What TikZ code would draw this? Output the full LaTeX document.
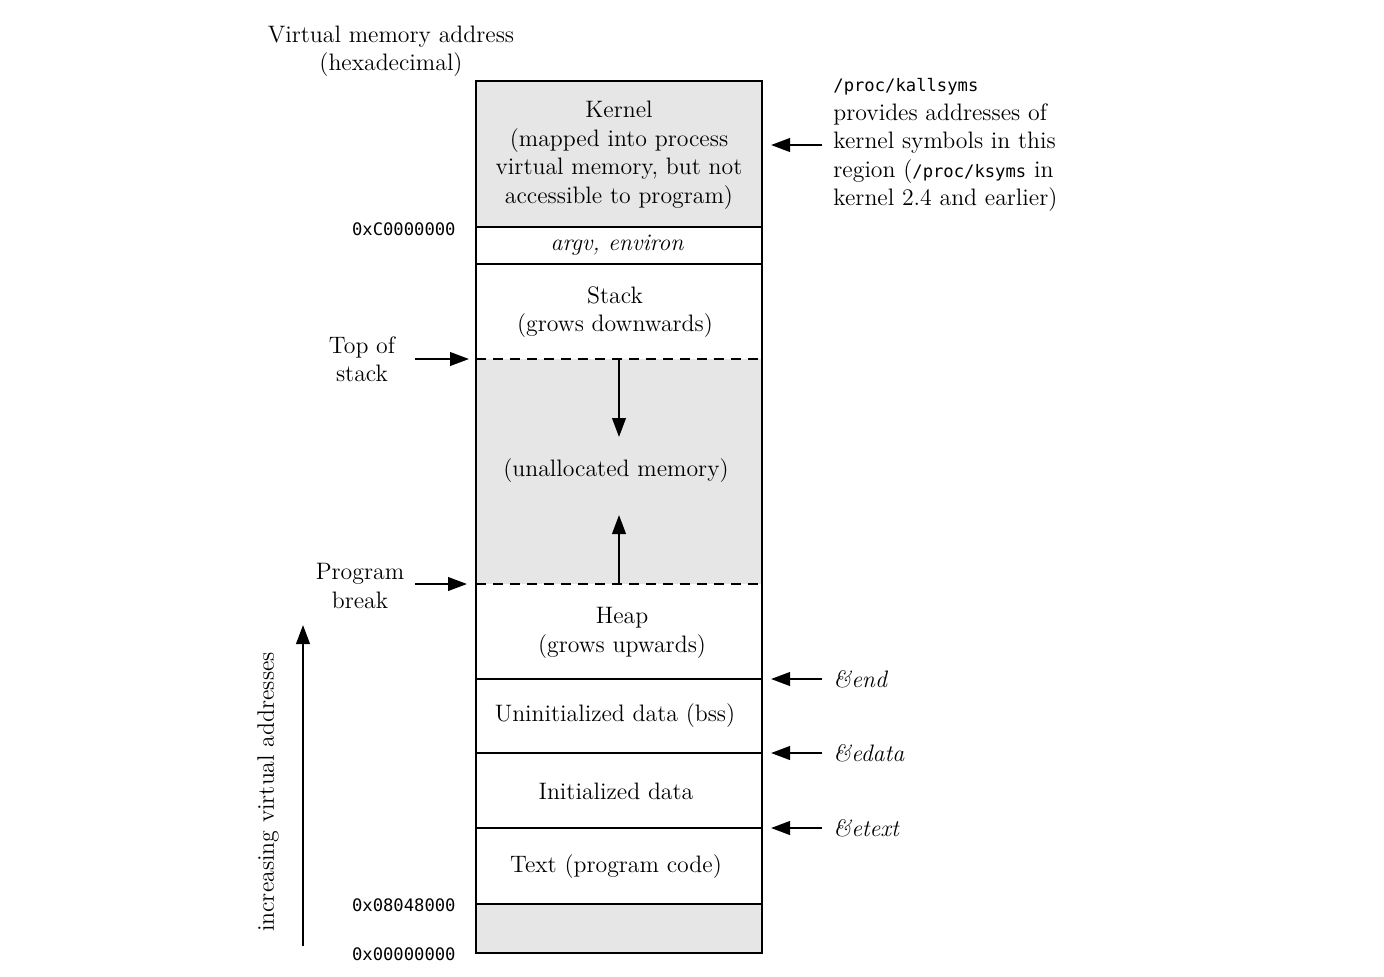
\documentclass[tikz,border=0pt]{standalone}
\usepackage{fontspec}
\newfontfamily\monof{DejaVu Sans Mono}
\usetikzlibrary{arrows.meta}
\definecolor{memgray}{RGB}{230,230,230}
\begin{document}
\begin{tikzpicture}[x=0.5pt,y=-0.5pt,
  txt/.style={font=\fontsize{11.9}{14.25}\selectfont, align=center, inner sep=0pt},
  rtxt/.style={font=\fontsize{11.9}{14.25}\selectfont, align=left, inner sep=0pt},
  hex/.style={font=\monof\fontsize{8.6}{10}\selectfont, inner sep=0pt, anchor=east},
  arr/.style={-{Triangle[length=9.5pt,width=6.8pt]}, line width=1.1pt},
  border/.style={line width=1.4pt},
  dashsep/.style={line width=1.2pt, dash pattern=on 5pt off 3.5pt}]
\useasboundingbox (0,0) rectangle (1384,976);
% gray regions
\fill[memgray] (476,81) rectangle (762,227);
\fill[memgray] (476,359) rectangle (762,584);
\fill[memgray] (476,904) rectangle (762,953);
% separators
\foreach \yy in {227,264,679,753,828,904}
  \draw[border] (476,\yy) -- (762,\yy);
\draw[dashsep] (476,359) -- (762,359);
\draw[dashsep] (476,584) -- (762,584);
\draw[border] (476,81) rectangle (762,953);
% region texts
\node[txt] (kernel) at (619,155) {Kernel\\(mapped into process\\virtual memory, but not\\accessible to program)};
\node[txt] (argv) at (617,245) {\itshape argv, environ};
\node[txt] (stack) at (615,312) {Stack\\(grows downwards)};
\node[txt] (unalloc) at (616,471) {(unallocated memory)};
\node[txt] (heap) at (622,633) {Heap\\(grows upwards)};
\node[txt] (bss) at (615,716) {Uninitialized data (bss)};
\node[txt] (init) at (616,791) {Initialized data};
\node[txt] (text) at (616,867) {Text (program code)};
% growth arrows
\coordinate (sdTop) at (619,359);
\coordinate (sdTip) at (619,437);
\coordinate (huBot) at (619,584);
\coordinate (huTip) at (619,515);
\draw[arr] (sdTop) -- (sdTip);
\draw[arr] (huBot) -- (huTip);
% left labels
\node[txt] (vma) at (391,51) {Virtual memory address\\(hexadecimal)};
\node[hex] (hC) at (456,229) {0xC0000000};
\node[hex] (h08) at (456,905) {0x08048000};
\node[hex] (h00) at (456,954) {0x00000000};
\node[txt] (tos) at (362,359) {Top of\\stack};
\node[txt] (pbrk) at (360,586) {Program\\break};
\coordinate (tosS) at (415,359);
\coordinate (tosE) at (469,359);
\coordinate (pbS) at (415,584);
\coordinate (pbE) at (467,584);
\draw[arr] (tosS) -- (tosE);
\draw[arr] (pbS) -- (pbE);
\node[txt, rotate=90] (inc) at (268,792) {increasing virtual addresses};
\coordinate (incS) at (303,946);
\coordinate (incE) at (303,625);
\draw[arr] (incS) -- (incE);
% right labels
\node[rtxt, anchor=west] (knote) at (833,145) {{\monof\fontsize{8.6}{10}\selectfont /proc/kallsyms}\\provides addresses of\\kernel symbols in this\\region ({\monof\fontsize{8.6}{10}\selectfont /proc/ksyms} in\\kernel 2.4 and earlier)};
\node[txt, anchor=west] (eend) at (833,679) {\itshape\&end};
\node[txt, anchor=west] (edata) at (833,753) {\itshape\&edata};
\node[txt, anchor=west] (etext) at (833,828) {\itshape\&etext};
\coordinate (kS) at (822,145);
\coordinate (kE) at (771,145);
\coordinate (eS) at (822,679);
\coordinate (eE) at (771,679);
\coordinate (dS) at (822,753);
\coordinate (dE) at (771,753);
\coordinate (tS) at (822,828);
\coordinate (tE) at (771,828);
\draw[arr] (kS) -- (kE);
\draw[arr] (eS) -- (eE);
\draw[arr] (dS) -- (dE);
\draw[arr] (tS) -- (tE);
\end{tikzpicture}
\end{document}
